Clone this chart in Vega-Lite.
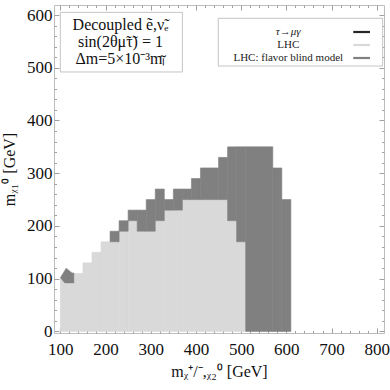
{
  "$schema": "https://vega.github.io/schema/vega-lite/v6.json",
  "width": 330,
  "height": 328,
  "autosize": {"type": "none"},
  "padding": {"left": 54, "top": 5, "right": 6, "bottom": 57},
  "background": "white",
  "config": {
    "view": {"stroke": "#bdbdbd", "strokeWidth": 1},
    "font": "Liberation Serif",
    "axis": {
      "domain": false,
      "grid": false,
      "tickColor": "#a0a0a0",
      "tickWidth": 1,
      "labelFont": "Liberation Serif",
      "labelFontSize": 17,
      "labelColor": "#111111",
      "titleFont": "Liberation Serif",
      "titleFontSize": 16,
      "titleFontWeight": "normal",
      "titleColor": "#111111",
      "labelOverlap": false,
      "labelFlush": false
    }
  },
  "layer": [
    {
      "data": {
        "values": [
          {"x1": 100, "x2": 130, "y1": 0, "y2": 100, "region": "LHC"},
          {"x1": 130, "x2": 150, "y1": 0, "y2": 110, "region": "LHC"},
          {"x1": 150, "x2": 170, "y1": 0, "y2": 130, "region": "LHC"},
          {"x1": 170, "x2": 190, "y1": 0, "y2": 150, "region": "LHC"},
          {"x1": 190, "x2": 230, "y1": 0, "y2": 170, "region": "LHC"},
          {"x1": 230, "x2": 250, "y1": 0, "y2": 190, "region": "LHC"},
          {"x1": 250, "x2": 270, "y1": 0, "y2": 210, "region": "LHC"},
          {"x1": 270, "x2": 310, "y1": 0, "y2": 190, "region": "LHC"},
          {"x1": 310, "x2": 330, "y1": 0, "y2": 210, "region": "LHC"},
          {"x1": 330, "x2": 370, "y1": 0, "y2": 230, "region": "LHC"},
          {"x1": 370, "x2": 470, "y1": 0, "y2": 250, "region": "LHC"},
          {"x1": 470, "x2": 490, "y1": 0, "y2": 210, "region": "LHC"},
          {"x1": 490, "x2": 510, "y1": 0, "y2": 170, "region": "LHC"},
          {"x1": 210, "x2": 230, "y1": 170, "y2": 190, "region": "LHC: flavor blind model"},
          {"x1": 230, "x2": 250, "y1": 190, "y2": 210, "region": "LHC: flavor blind model"},
          {"x1": 250, "x2": 270, "y1": 210, "y2": 230, "region": "LHC: flavor blind model"},
          {"x1": 270, "x2": 290, "y1": 190, "y2": 230, "region": "LHC: flavor blind model"},
          {"x1": 290, "x2": 310, "y1": 190, "y2": 250, "region": "LHC: flavor blind model"},
          {"x1": 310, "x2": 330, "y1": 210, "y2": 270, "region": "LHC: flavor blind model"},
          {"x1": 330, "x2": 350, "y1": 230, "y2": 250, "region": "LHC: flavor blind model"},
          {"x1": 350, "x2": 370, "y1": 230, "y2": 270, "region": "LHC: flavor blind model"},
          {"x1": 370, "x2": 390, "y1": 250, "y2": 270, "region": "LHC: flavor blind model"},
          {"x1": 390, "x2": 410, "y1": 250, "y2": 290, "region": "LHC: flavor blind model"},
          {"x1": 410, "x2": 450, "y1": 250, "y2": 310, "region": "LHC: flavor blind model"},
          {"x1": 450, "x2": 470, "y1": 250, "y2": 330, "region": "LHC: flavor blind model"},
          {"x1": 470, "x2": 490, "y1": 210, "y2": 350, "region": "LHC: flavor blind model"},
          {"x1": 490, "x2": 510, "y1": 170, "y2": 350, "region": "LHC: flavor blind model"},
          {"x1": 510, "x2": 570, "y1": 0, "y2": 350, "region": "LHC: flavor blind model"},
          {"x1": 570, "x2": 590, "y1": 0, "y2": 310, "region": "LHC: flavor blind model"},
          {"x1": 590, "x2": 610, "y1": 0, "y2": 250, "region": "LHC: flavor blind model"}
        ]
      },
      "mark": {"type": "rect", "strokeWidth": 0.6},
      "encoding": {
        "x": {
          "field": "x1", "type": "quantitative",
          "scale": {"domain": [86, 816], "nice": false, "zero": false},
          "axis": {
            "orient": "bottom",
            "values": [100,120,140,160,180,200,220,240,260,280,300,320,340,360,380,400,420,440,460,480,500,520,540,560,580,600,620,640,660,680,700,720,740,760,780,800],
            "labelExpr": "datum.value % 100 === 0 ? datum.label : ''",
            "tickSize": {"condition": {"test": "datum.value % 100 === 0", "value": -5}, "value": -2.5},
            "labelPadding": 13,
            "title": "mᵪ⁺/⁻,ᵪ₂⁰ [GeV]",
            "titlePadding": 4
          }
        },
        "x2": {"field": "x2"},
        "y": {
          "field": "y1", "type": "quantitative",
          "scale": {"domain": [-3, 619], "nice": false, "zero": false},
          "axis": {
            "orient": "left",
            "values": [0,20,40,60,80,100,120,140,160,180,200,220,240,260,280,300,320,340,360,380,400,420,440,460,480,500,520,540,560,580,600],
            "labelExpr": "datum.value % 100 === 0 ? datum.label : ''",
            "tickSize": {"condition": {"test": "datum.value % 100 === 0", "value": -5}, "value": -2.5},
            "labelPadding": 7,
            "title": "mᵪ₁⁰ [GeV]",
            "titlePadding": 9
          }
        },
        "y2": {"field": "y2"},
        "color": {
          "field": "region", "type": "nominal",
          "scale": {"domain": ["LHC", "LHC: flavor blind model"], "range": ["#d9d9d9", "#808080"]},
          "legend": null
        },
        "stroke": {
          "field": "region", "type": "nominal",
          "scale": {"domain": ["LHC", "LHC: flavor blind model"], "range": ["#d9d9d9", "#808080"]},
          "legend": null
        }
      }
    },
    {
      "data": {
        "values": [
          {"px": 100, "py": 102, "k": 1},
          {"px": 113, "py": 120, "k": 2},
          {"px": 126, "py": 111, "k": 3},
          {"px": 130, "py": 111, "k": 4},
          {"px": 130, "py": 92, "k": 5},
          {"px": 110, "py": 92, "k": 6}
        ]
      },
      "mark": {"type": "line", "interpolate": "linear-closed", "fill": "#808080", "stroke": "#808080", "strokeWidth": 0.5},
      "encoding": {
        "x": {"field": "px", "type": "quantitative", "axis": null},
        "y": {"field": "py", "type": "quantitative", "axis": null},
        "order": {"field": "k", "type": "quantitative"}
      }
    },
    {
      "data": {"values": [{}]},
      "mark": {"type": "rect", "fill": "white", "stroke": "#c4c4c4", "strokeWidth": 1},
      "encoding": {
        "x": {
          "datum": 100, "type": "quantitative",
          "axis": {
            "orient": "top",
            "values": [100,120,140,160,180,200,220,240,260,280,300,320,340,360,380,400,420,440,460,480,500,520,540,560,580,600,620,640,660,680,700,720,740,760,780,800],
            "labels": false,
            "tickSize": {"condition": {"test": "datum.value % 100 === 0", "value": -5}, "value": -2.5},
            "title": null
          }
        },
        "x2": {"datum": 370},
        "y": {
          "datum": 492, "type": "quantitative",
          "axis": {
            "orient": "right",
            "values": [0,20,40,60,80,100,120,140,160,180,200,220,240,260,280,300,320,340,360,380,400,420,440,460,480,500,520,540,560,580,600],
            "labels": false,
            "tickSize": {"condition": {"test": "datum.value % 100 === 0", "value": -5}, "value": -2.5},
            "title": null
          }
        },
        "y2": {"datum": 605}
      }
    },
    {
      "data": {"values": [{}]},
      "mark": {"type": "text", "align": "center", "baseline": "alphabetic", "fontSize": 16, "lineHeight": 17, "font": "Liberation Serif", "color": "#111111"},
      "encoding": {
        "x": {"datum": 233, "type": "quantitative", "axis": null},
        "y": {"datum": 571.6, "type": "quantitative", "axis": null},
        "text": {"value": ["Decoupled ẽ,ν̃ₑ", "sin(2θμ̃τ̃) = 1", "Δm=5×10⁻³mₗ̃"]}
      }
    },
    {
      "data": {"values": [{}]},
      "mark": {"type": "rect", "fill": "white", "stroke": "#c4c4c4", "strokeWidth": 1},
      "encoding": {
        "x": {"datum": 449.4, "type": "quantitative", "axis": null},
        "x2": {"datum": 813},
        "y": {"datum": 503.3, "type": "quantitative", "axis": null},
        "y2": {"datum": 593.8}
      }
    },
    {
      "data": {"values": [{}]},
      "mark": {"type": "text", "align": "center", "baseline": "alphabetic", "fontSize": 11, "fontStyle": "italic", "font": "Liberation Serif", "color": "#222222"},
      "encoding": {
        "x": {"datum": 604.2, "type": "quantitative", "axis": null},
        "y": {"datum": 562.1, "type": "quantitative", "axis": null},
        "text": {"value": "τ→μγ"}
      }
    },
    {
      "data": {"values": [{}]},
      "mark": {"type": "text", "align": "center", "baseline": "alphabetic", "fontSize": 11, "lineHeight": 13, "font": "Liberation Serif", "color": "#222222"},
      "encoding": {
        "x": {"datum": 604.2, "type": "quantitative", "axis": null},
        "y": {"datum": 538, "type": "quantitative", "axis": null},
        "text": {"value": ["LHC", "LHC: flavor blind model"]}
      }
    },
    {
      "data": {"values": [{}]},
      "mark": {"type": "rule", "color": "#262626", "strokeWidth": 2.2},
      "encoding": {
        "x": {"datum": 748, "type": "quantitative", "axis": null},
        "x2": {"datum": 785},
        "y": {"datum": 567.8, "type": "quantitative", "axis": null}
      }
    },
    {
      "data": {"values": [{}]},
      "mark": {"type": "rule", "color": "#d9d9d9", "strokeWidth": 2.2},
      "encoding": {
        "x": {"datum": 748, "type": "quantitative", "axis": null},
        "x2": {"datum": 785},
        "y": {"datum": 543.1, "type": "quantitative", "axis": null}
      }
    },
    {
      "data": {"values": [{}]},
      "mark": {"type": "rule", "color": "#808080", "strokeWidth": 2.2},
      "encoding": {
        "x": {"datum": 748, "type": "quantitative", "axis": null},
        "x2": {"datum": 785},
        "y": {"datum": 518.5, "type": "quantitative", "axis": null}
      }
    }
  ],
  "resolve": {"axis": {"x": "independent", "y": "independent"}}
}
